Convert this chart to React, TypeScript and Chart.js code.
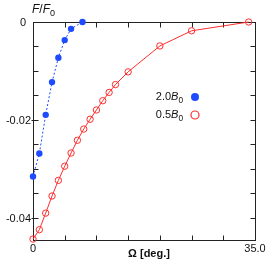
import React, { useEffect, useRef } from "react";
import { Chart, registerables } from "chart.js";
Chart.register(...registerables);

// Data
const blueX = [0, 1, 2, 3, 4, 5, 6, 7.8];
const blueY = [-0.0316, -0.0269, -0.019, -0.0123, -0.0073, -0.0037, -0.0014, 0];
const redX = [0, 1, 2, 3, 4, 5, 6, 7, 8, 9, 10, 11, 12, 13, 15, 20, 25, 34];
const redY = [
  -0.0444, -0.0425, -0.0391, -0.0356, -0.0324, -0.0295, -0.0268, -0.0242, -0.0219,
  -0.0199, -0.018, -0.0161, -0.0144, -0.0128, -0.0102, -0.0049, -0.0018, 0,
];
const seriesNames = ["2.0", "0.5"];
const xTicks = [0, 5, 10, 15, 20, 25, 30, 35];
const xTickLabels = ["0", "", "", "", "", "", "", "35.0"];
const yTicks = [0, -0.005, -0.01, -0.015, -0.02, -0.025, -0.03, -0.035, -0.04];
const yTickLabels = ["0", "", "", "", "-0.02", "", "", "", "-0.04"];
const xMin = 0;
const xMax = 35;
const yMin = -0.0446;
const yMax = 0;

const BLUE = "rgb(30,75,255)";
const RED = "rgb(255,45,45)";
const FONT = "'Liberation Sans', Arial, sans-serif";

type Part = { t: string; it?: boolean; sub?: boolean; bold?: boolean };

function richWidth(ctx: CanvasRenderingContext2D, parts: Part[], size: number) {
  let w = 0;
  for (const p of parts) {
    const s = p.sub ? size * 0.75 : size;
    ctx.font = `${p.it ? "italic " : ""}${p.bold ? "bold " : ""}${s}px ${FONT}`;
    w += ctx.measureText(p.t).width;
  }
  return w;
}

function drawRich(ctx: CanvasRenderingContext2D, parts: Part[], x: number, y: number, size: number) {
  ctx.textBaseline = "middle";
  ctx.textAlign = "left";
  let cx = x;
  for (const p of parts) {
    const s = p.sub ? size * 0.75 : size;
    ctx.font = `${p.it ? "italic " : ""}${p.bold ? "bold " : ""}${s}px ${FONT}`;
    ctx.fillText(p.t, cx, p.sub ? y + size * 0.3 : y);
    cx += ctx.measureText(p.t).width;
  }
}

const framePlugin = {
  id: "frame",
  beforeDatasetsDraw(chart: any) {
    const { ctx, chartArea: a, scales } = chart;
    const xs = scales.x;
    const ys = scales.y;
    ctx.save();
    ctx.strokeStyle = "#222";
    ctx.lineWidth = 1;
    ctx.strokeRect(Math.round(a.left) + 0.5, Math.round(a.top) + 0.5, Math.round(a.right - a.left), Math.round(a.bottom - a.top));
    ctx.beginPath();
    const L = Math.round(a.left) + 0.5;
    const R = Math.round(a.right) + 0.5;
    const T = Math.round(a.top) + 0.5;
    const B = Math.round(a.bottom) + 0.5;
    xTicks.forEach((v) => {
      if (v === xMin || v === xMax) return;
      const px = Math.round(xs.getPixelForValue(v)) + 0.5;
      ctx.moveTo(px, B);
      ctx.lineTo(px, B - 5);
      ctx.moveTo(px, T);
      ctx.lineTo(px, T + 5);
    });
    yTicks.forEach((v, i) => {
      const py = Math.round(ys.getPixelForValue(v)) + 0.5;
      if (v === yMax) return;
      if (yTickLabels[i]) {
        ctx.moveTo(L - 2, py);
        ctx.lineTo(L + 5, py);
      } else {
        ctx.moveTo(L, py);
        ctx.lineTo(L + 5, py);
      }
      ctx.moveTo(R, py);
      ctx.lineTo(R - 5, py);
    });
    ctx.stroke();
    ctx.restore();
  },
  afterDraw(chart: any) {
    const { ctx, chartArea: a, scales } = chart;
    const xs = scales.x;
    const ys = scales.y;
    ctx.save();
    ctx.fillStyle = "#111";
    ctx.font = `11px ${FONT}`;
    // y tick labels
    ctx.textBaseline = "middle";
    ctx.textAlign = "right";
    yTicks.forEach((v, i) => {
      const lab = yTickLabels[i];
      if (!lab) return;
      const py = ys.getPixelForValue(v);
      const off = v === 0 ? 7 : 2;
      ctx.fillText(lab, a.left - off, py + 1);
    });
    // x tick labels
    ctx.textAlign = "center";
    ctx.textBaseline = "middle";
    xTicks.forEach((v, i) => {
      const lab = xTickLabels[i];
      if (!lab) return;
      ctx.fillText(lab, xs.getPixelForValue(v), a.bottom + 9);
    });
    // x axis title
    ctx.font = `bold 11px ${FONT}`;
    ctx.fillText("Ω [deg.]", (a.left + a.right) / 2 + 5, a.bottom + 14);
    // y axis title
    drawRich(ctx, [{ t: "F", it: true }, { t: "/" }, { t: "F", it: true }, { t: "0", sub: true }], a.left - 1, 10, 12);
    // legend
    const rows = [
      { name: seriesNames[0], color: BLUE, filled: true, y: 97 },
      { name: seriesNames[1], color: RED, filled: false, y: 115 },
    ];
    rows.forEach((r) => {
      const parts: Part[] = [{ t: r.name }, { t: "B", it: true }, { t: "0", sub: true }];
      const w = richWidth(ctx, parts, 11);
      ctx.fillStyle = "#111";
      drawRich(ctx, parts, 183 - w, r.y, 11);
      ctx.beginPath();
      ctx.arc(195, r.y, 4, 0, Math.PI * 2);
      if (r.filled) {
        ctx.fillStyle = r.color;
        ctx.fill();
      } else {
        ctx.strokeStyle = r.color;
        ctx.lineWidth = 1.2;
        ctx.stroke();
      }
    });
    ctx.restore();
  },
};

export default function App() {
  const ref = useRef<HTMLCanvasElement | null>(null);
  useEffect(() => {
    if (!ref.current) return;
    const chart = new Chart(ref.current, {
      type: "scatter",
      data: {
        datasets: [
          {
            label: seriesNames[0],
            data: blueX.map((x, i) => ({ x, y: blueY[i] })),
            showLine: true,
            borderColor: BLUE,
            borderWidth: 1,
            borderDash: [2, 2],
            pointRadius: 3.2,
            pointBackgroundColor: BLUE,
            pointBorderColor: BLUE,
            pointBorderWidth: 0,
            clip: false,
          } as any,
          {
            label: seriesNames[1],
            data: redX.map((x, i) => ({ x, y: redY[i] })),
            showLine: true,
            borderColor: RED,
            borderWidth: 1,
            pointRadius: 3.2,
            pointBackgroundColor: "rgba(0,0,0,0)",
            pointBorderColor: RED,
            pointBorderWidth: 1,
            clip: false,
          } as any,
        ],
      },
      options: {
        animation: false,
        responsive: false,
        devicePixelRatio: 1,
        layout: { padding: { left: 33, top: 22, right: 18, bottom: 25 } },
        scales: {
          x: { type: "linear", min: xMin, max: xMax, display: false },
          y: { type: "linear", min: yMin, max: yMax, display: false },
        },
        plugins: { legend: { display: false }, tooltip: { enabled: false }, title: { display: false } },
      },
      plugins: [framePlugin],
    });
    return () => chart.destroy();
  }, []);
  return (
    <div style={{ position: "absolute", left: 0, top: 0, width: 273, height: 265, background: "#fff" }}>
      <canvas ref={ref} width={273} height={265} />
    </div>
  );
}
